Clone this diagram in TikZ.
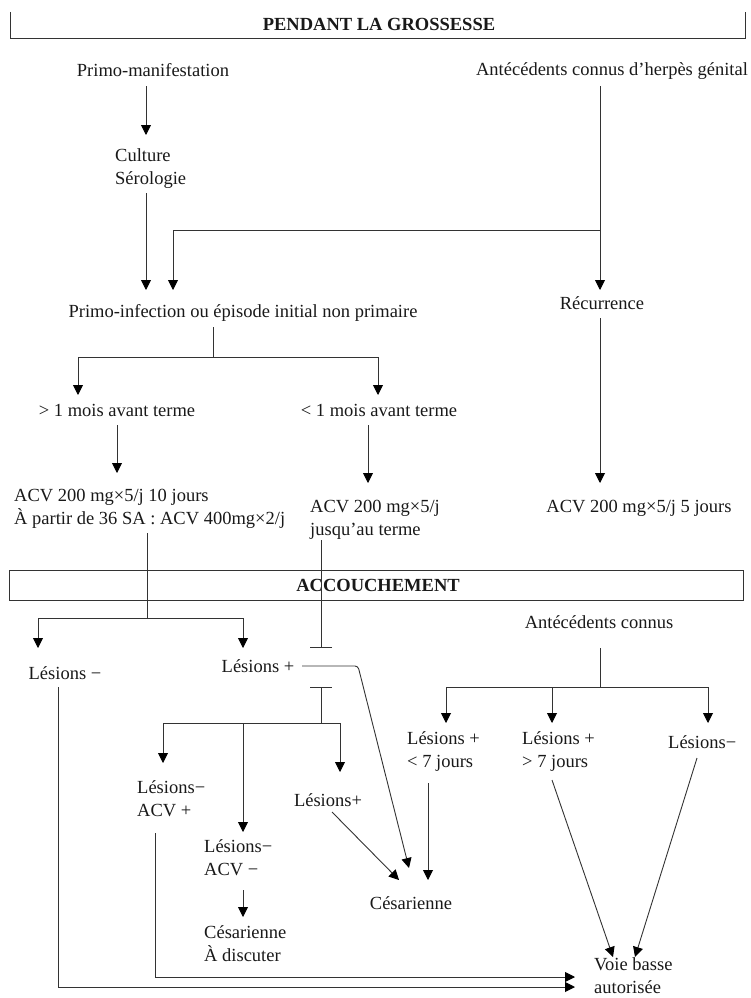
\documentclass[tikz,border=0pt]{standalone}
\usepackage{fontspec}
\setmainfont{Liberation Serif}
\usetikzlibrary{arrows.meta}
\begin{document}
\begin{tikzpicture}[x=1pt,y=-1pt,
  lbl/.style={inner sep=0pt,font=\fontsize{18.5}{23}\selectfont,text=black!90},
  lblL/.style={lbl,align=left,anchor=west},
  head/.style={lbl,font=\fontsize{18.5}{23}\selectfont\bfseries},
  link/.style={draw=black!80,line width=0.9pt},
  arr/.style={link,-{Triangle[length=10pt,width=10pt,color=black]}},
  stop/.style={link,-{Bar[width=22pt,line width=0.9pt]}},
  start/.style={link,{Bar[width=22pt,line width=0.9pt]}-},
  frame/.style={draw=black!80,line width=0.9pt}]
\useasboundingbox (0,0) rectangle (751,998);

% section headers
\draw[frame] (10,12) -- (10,38) -- (745,38) -- (745,12);
\node[head] (tg) at (379,24) {PENDANT LA GROSSESSE};
\draw[frame] (9,570) rectangle (743,600);
\node[head] (ta) at (378,585) {ACCOUCHEMENT};

% during pregnancy
\node[lbl] (primoM) at (153,70) {Primo-manifestation};
\node[lbl] (antec) at (612,71) {Antécédents connus d'herpès génital};
\node[lblL] (culture) at (115,169) {Culture\\Sérologie};
\node[lbl] (primoI) at (243,313) {Primo-infection ou épisode initial non primaire};
\node[lbl] (recur) at (602,303) {Récurrence};
\node[lbl] (sup1) at (117,410) {> 1 mois avant terme};
\node[lbl] (inf1) at (379,410) {< 1 mois avant terme};
\node[lblL] (acv10) at (14,509) {ACV 200 mg×5/j 10 jours\\À partir de 36 SA : ACV 400mg×2/j};
\node[lblL] (acvT) at (310,520) {ACV 200 mg×5/j\\jusqu'au terme};
\node[lbl] (acv5) at (639,508) {ACV 200 mg×5/j 5 jours};

% delivery
\node[lbl] (lesM) at (65,673) {Lésions −};
\node[lbl] (lesP) at (258,666) {Lésions +};
\node[lbl] (antC) at (599,622) {Antécédents connus};
\node[lblL] (lp7a) at (407,752) {Lésions +\\< 7 jours};
\node[lblL] (lp7b) at (522,752) {Lésions +\\> 7 jours};
\node[lblL] (lmR) at (668,742) {Lésions−};
\node[lblL] (lmA) at (137,799) {Lésions−\\ACV +};
\node[lblL] (lmB) at (204,858) {Lésions−\\ACV −};
\node[lblL] (cesD) at (204,944) {Césarienne\\À discuter};
\node[lbl] (lesP2) at (328,800) {Lésions+};
\node[lbl] (ces) at (411,903) {Césarienne};
\node[lblL] (voie) at (594,976) {Voie basse\\autorisée};

% connector ends and junctions
\coordinate (pmOut) at (146,86);
\coordinate (culIn) at (146,135);
\coordinate (culOut) at (146,193);
\coordinate (piIn) at (146,290);
\coordinate (anOut) at (600,86);
\coordinate (anJ) at (600,230);
\coordinate (piIn2) at (173,290);
\coordinate (reIn) at (600,290);
\coordinate (piOut) at (213,327);
\coordinate (piJ) at (213,357);
\coordinate (s1In) at (78,395);
\coordinate (i1In) at (378,395);
\coordinate (s1Out) at (117,425);
\coordinate (a10In) at (117,473);
\coordinate (i1Out) at (368,425);
\coordinate (aTIn) at (368,483);
\coordinate (reOut) at (600,318);
\coordinate (a5In) at (600,483);
\coordinate (a10Out) at (147,533);
\coordinate (a10J) at (147,618);
\coordinate (lmIn) at (38,648);
\coordinate (lpIn) at (243,648);
\coordinate (aTOut) at (321,540);
\coordinate (aTStop) at (321,648);
\coordinate (lpBar) at (321,687);
\coordinate (lpJ) at (321,723);
\coordinate (lmAIn) at (163,763);
\coordinate (lmBTop) at (243,723);
\coordinate (lmBIn) at (243,832);
\coordinate (lp2Top) at (340,723);
\coordinate (lp2In) at (340,772);
\coordinate (lpOut) at (302,666);
\coordinate (lpBend) at (358,666);
\coordinate (cesIn1) at (409,868);
\coordinate (cesIn2) at (399,880);
\coordinate (cesIn3) at (428,880);
\coordinate (lp2Out) at (332,812);
\coordinate (l7aOut) at (428,783);
\coordinate (acOut) at (600,648);
\coordinate (acJ) at (600,687);
\coordinate (l7aIn) at (446,723);
\coordinate (l7bTop) at (552,687);
\coordinate (l7bIn) at (552,723);
\coordinate (lmRIn) at (708,723);
\coordinate (l7bOut) at (552,780);
\coordinate (lmROut) at (697,758);
\coordinate (voIn1) at (613,957);
\coordinate (voIn2) at (635,957);
\coordinate (lmOut) at (58,687);
\coordinate (lmBot) at (58,987);
\coordinate (voIn3) at (575,987);
\coordinate (lmAOut) at (155,833);
\coordinate (lmABot) at (155,977);
\coordinate (voIn4) at (575,977);
\coordinate (lmBOut) at (243,890);
\coordinate (cdIn) at (243,917);

% connectors: pregnancy
\draw[arr] (pmOut) -- (culIn);
\draw[arr] (culOut) -- (piIn);
\draw[arr] (anOut) -- (reIn);
\draw[arr] (anJ) -| (piIn2);
\draw[link] (piOut) -- (piJ);
\draw[arr] (piJ) -| (s1In);
\draw[arr] (piJ) -| (i1In);
\draw[arr] (s1Out) -- (a10In);
\draw[arr] (i1Out) -- (aTIn);
\draw[arr] (reOut) -- (a5In);

% connectors: delivery
\draw[link] (a10Out) -- (a10J);
\draw[arr] (a10J) -| (lmIn);
\draw[arr] (a10J) -| (lpIn);
\draw[stop] (aTOut) -- (aTStop);
\draw[start] (lpBar) -- (lpJ);
\draw[arr] (lpJ) -| (lmAIn);
\draw[link] (lpJ) -| (lp2Top);
\draw[arr] (lmBTop) -- (lmBIn);
\draw[arr] (lp2Top) -- (lp2In);
\draw[arr,rounded corners=3pt] (lpOut) -- (lpBend) -- (cesIn1);
\draw[arr] (lp2Out) -- (cesIn2);
\draw[arr] (l7aOut) -- (cesIn3);
\draw[link] (acOut) -- (acJ);
\draw[arr] (acJ) -| (l7aIn);
\draw[arr] (acJ) -| (lmRIn);
\draw[arr] (l7bTop) -- (l7bIn);
\draw[arr] (l7bOut) -- (voIn1);
\draw[arr] (lmROut) -- (voIn2);
\draw[arr] (lmOut) -- (lmBot) -- (voIn3);
\draw[arr] (lmAOut) -- (lmABot) -- (voIn4);
\draw[arr] (lmBOut) -- (cdIn);
\end{tikzpicture}
\end{document}
